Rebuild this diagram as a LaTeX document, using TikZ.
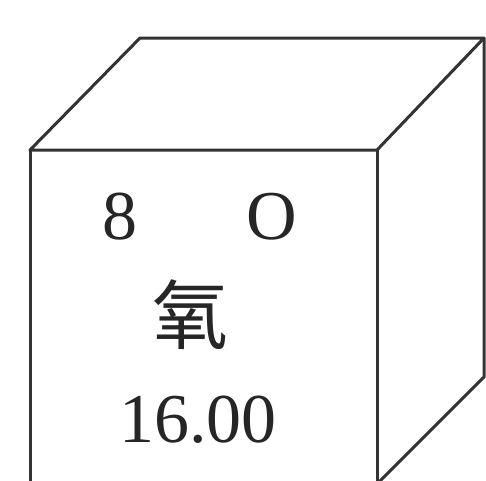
\documentclass[tikz,border=0pt]{standalone}
\usepackage{fontspec}
\setmainfont{Liberation Serif}
\newfontfamily\cjk{Noto Sans CJK SC}
\begin{document}
\begin{tikzpicture}[x=1pt, y=-1pt,
  edge/.style={draw=black!80, line width=3pt, line join=round},
  lbl/.style={font=\fontsize{70}{70}\selectfont, text=black!85, inner sep=0pt},
  zi/.style={font=\cjk\fontsize{76}{76}\selectfont, text=black!85, inner sep=0pt}]
\useasboundingbox (0,0) rectangle (486,480);
\clip (0,0) rectangle (486,480);
% cube corners
\coordinate (ftl) at (30,150);
\coordinate (ftr) at (377,150);
\coordinate (btl) at (140,38);
\coordinate (btr) at (484,38);
\coordinate (fbl) at (30,495);
\coordinate (fbr) at (377,495);
\coordinate (bbr) at (484,377);
% faces
\draw[edge] (ftl) -- (btl) -- (btr) -- (ftr) -- cycle;
\draw[edge] (ftr) -- (fbr);
\draw[edge] (ftl) -- (fbl);
\draw[edge] (btr) -- (bbr) -- ++(-107,107);
% element card
\node[lbl] (num) at (120,217) {8};
\node[lbl] (sym) at (272,217) {O};
\node[zi] (name) at (190,315) {氧};
\node[lbl] (mass) at (198,420) {16.00};
\end{tikzpicture}
\end{document}
